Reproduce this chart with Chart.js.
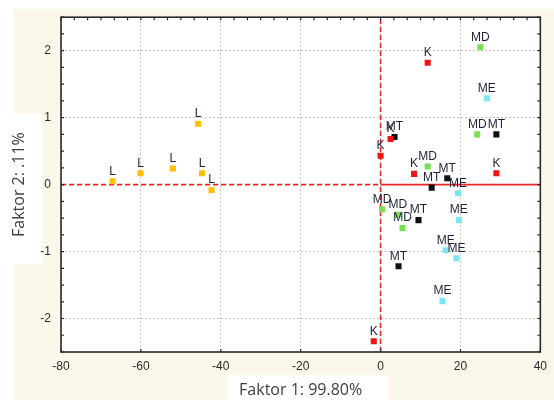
<!DOCTYPE html>
<html>
<head>
<meta charset="utf-8">
<script src="https://cdn.jsdelivr.net/npm/chart.js@4.4.1/dist/chart.umd.min.js"></script>
<style>
html, body { margin:0; padding:0; background:#fff; }
</style>
</head>
<body>
<canvas id="canvPca" width="554" height="400"></canvas>
<script>
// factor scores per group (Faktor 1 = x, Faktor 2 = y)
const lX = [-67.1, -60.1, -52.0, -45.7, -44.7, -42.3];
const lY = [0.05, 0.17, 0.24, 0.91, 0.17, -0.08];
const kX = [11.8, 2.5, 0.0, 8.4, 29.0, -1.7];
const kY = [1.82, 0.68, 0.43, 0.16, 0.17, -2.34];
const mdX = [25.0, 24.2, 11.8, 0.4, 4.3, 5.5];
const mdY = [2.05, 0.75, 0.27, -0.37, -0.45, -0.65];
const meX = [26.6, 19.4, 19.6, 16.3, 19.0, 15.5];
const meY = [1.29, -0.13, -0.53, -0.98, -1.10, -1.74];
const mtX = [29.0, 3.5, 16.7, 12.8, 9.5, 4.5];
const mtY = [0.75, 0.71, 0.095, -0.045, -0.53, -1.22];

// axis ticks
const xTicks = [-80, -60, -40, -20, 0, 20, 40];
const yTicks = [-2, -1, 0, 1, 2];
const xRange = [-80, 40];
const yRange = [-2.5, 2.5];

const xTitle = 'Faktor 1: 99.80%';
const yTitle = 'Faktor 2: .11%';

const makePoints = (xs, ys) => xs.map((x, i) => ({x: x, y: ys[i]}));

const groupDataset = (label, xs, ys, color) => ({
    label: label,
    data: makePoints(xs, ys),
    pointStyle: 'rect',
    pointRadius: 4.3,
    pointBackgroundColor: color,
    pointBorderColor: color,
    pointBorderWidth: 0,
    order: 1
});

const refLine = (data, dash) => ({
    label: '',
    data: data,
    showLine: true,
    pointRadius: 0,
    borderColor: '#e8262a',
    borderWidth: 1.6,
    borderDash: dash,
    order: 5
});

// backgrounds + white title boxes
const bgPlugin = {
    id: 'bgPlugin',
    beforeDraw(chart) {
        const ctx = chart.ctx;
        const a = chart.chartArea;
        ctx.save();
        ctx.fillStyle = '#ffffff';
        ctx.fillRect(0, 0, chart.width, chart.height);
        ctx.fillStyle = '#fbf7ea';
        ctx.fillRect(14, 9, chart.width - 14, chart.height - 9);
        ctx.fillStyle = '#ffffff';
        ctx.fillRect(a.left, a.top, a.right - a.left, a.bottom - a.top);
        ctx.fillRect(0, 114, 42, 150);
        ctx.fillRect(228, 375, 160, 25);
        ctx.restore();
    }
};

// text labels above every point
const labelPlugin = {
    id: 'labelPlugin',
    afterDatasetsDraw(chart) {
        const ctx = chart.ctx;
        ctx.save();
        ctx.font = '12px "Liberation Sans", Arial, sans-serif';
        ctx.fillStyle = '#1f2236';
        ctx.textAlign = 'center';
        ctx.textBaseline = 'bottom';
        chart.data.datasets.forEach((ds, i) => {
            if (!ds.label) return;
            chart.getDatasetMeta(i).data.forEach(pt => {
                ctx.fillText(ds.label, pt.x, pt.y - 4);
            });
        });
        ctx.restore();
    }
};

// frame with inward tick marks
const framePlugin = {
    id: 'framePlugin',
    afterDraw(chart) {
        const ctx = chart.ctx;
        const a = chart.chartArea;
        const xs = chart.scales.x;
        const ys = chart.scales.y;
        ctx.save();
        ctx.strokeStyle = '#2b2b2b';
        ctx.lineWidth = 1.6;
        ctx.strokeRect(a.left, a.top, a.right - a.left, a.bottom - a.top);
        ctx.lineWidth = 1.2;
        ctx.beginPath();
        // top edge: minor ticks
        for (let v = xRange[0]; v <= xRange[1] + 0.01; v += 20 / 6) {
            const px = xs.getPixelForValue(v);
            ctx.moveTo(px, a.top);
            ctx.lineTo(px, a.top + 3);
        }
        // bottom edge: major ticks
        xTicks.forEach(v => {
            const px = xs.getPixelForValue(v);
            ctx.moveTo(px, a.bottom);
            ctx.lineTo(px, a.bottom - 3);
        });
        // left and right edges: quarter ticks
        for (let v = yRange[0]; v <= yRange[1] + 0.01; v += 0.25) {
            const py = ys.getPixelForValue(v);
            ctx.moveTo(a.left, py);
            ctx.lineTo(a.left + 3, py);
            ctx.moveTo(a.right, py);
            ctx.lineTo(a.right - 3, py);
        }
        ctx.stroke();
        ctx.restore();
    }
};

const pcaChart = new Chart(document.getElementById('canvPca'), {
    type: 'scatter',
    data: {
        datasets: [
            groupDataset('L', lX, lY, '#ffc000'),
            groupDataset('K', kX, kY, '#f51414'),
            groupDataset('MD', mdX, mdY, '#78e052'),
            groupDataset('ME', meX, meY, '#7ae6f4'),
            groupDataset('MT', mtX, mtY, '#111111'),
            refLine([{x: xRange[0], y: 0}, {x: 0, y: 0}], [5, 3]),
            refLine([{x: 0, y: 0}, {x: xRange[1], y: 0}], []),
            refLine([{x: 0, y: yRange[0]}, {x: 0, y: yRange[1]}], [5, 3])
        ]
    },
    options: {
        responsive: false,
        animation: false,
        devicePixelRatio: 1,
        layout: {padding: {left: 0, right: 10, top: 16, bottom: 0}},
        plugins: {
            legend: {display: false},
            tooltip: {enabled: false}
        },
        scales: {
            x: {
                type: 'linear',
                min: xRange[0],
                max: xRange[1],
                afterBuildTicks: s => { s.ticks = xTicks.map(v => ({value: v})); },
                afterFit: s => { s.height = 48; },
                grid: {color: '#c4c4c4', lineWidth: 1, drawTicks: false},
                border: {display: false, dash: [2, 2]},
                ticks: {
                    padding: 7,
                    color: '#2a2a2a',
                    font: {family: '"Liberation Sans", Arial, sans-serif', size: 12}
                },
                title: {
                    display: true,
                    text: xTitle,
                    color: '#404040',
                    padding: {top: 0, bottom: 0},
                    font: {family: '"Open Sans", sans-serif', size: 16}
                }
            },
            y: {
                type: 'linear',
                min: yRange[0],
                max: yRange[1],
                afterBuildTicks: s => { s.ticks = yTicks.map(v => ({value: v})); },
                afterFit: s => { s.width = 61; },
                grid: {color: '#c4c4c4', lineWidth: 1, drawTicks: false},
                border: {display: false, dash: [2, 2]},
                ticks: {
                    padding: 10,
                    color: '#2a2a2a',
                    font: {family: '"Liberation Sans", Arial, sans-serif', size: 12}
                },
                title: {
                    display: true,
                    text: yTitle,
                    color: '#404040',
                    padding: {top: 10, bottom: 0},
                    font: {family: '"Open Sans", sans-serif', size: 16}
                }
            }
        }
    },
    plugins: [bgPlugin, labelPlugin, framePlugin]
});
</script>
</body>
</html>
